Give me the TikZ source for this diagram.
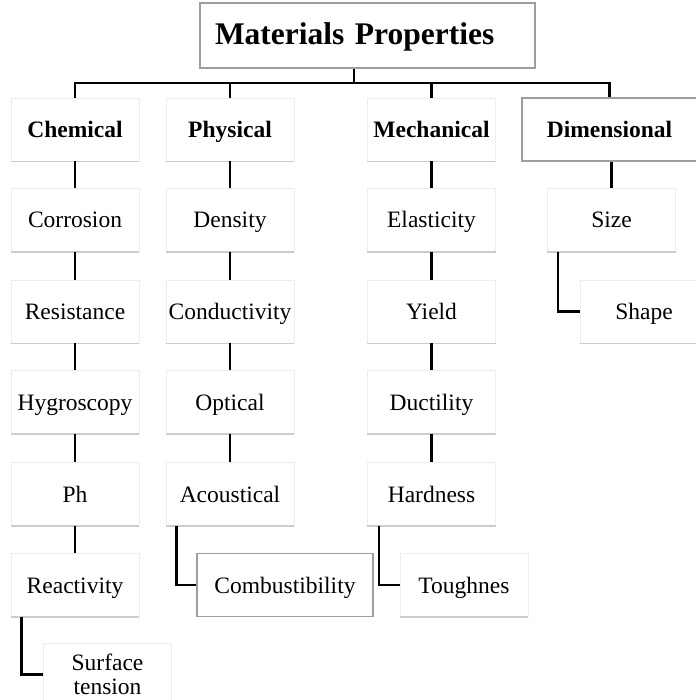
\documentclass[tikz,border=0pt]{standalone}
\usepackage{fontspec}
\setmainfont{Liberation Serif}
\begin{document}
\begin{tikzpicture}[x=1pt,y=-1pt,
  box/.style={draw=black!7, line width=0.8pt, fill=white, minimum width=128pt, minimum height=63pt, inner sep=0pt, text height=19pt, text depth=3pt, font=\fontsize{23.5}{26}\selectfont},
  hbox/.style={box, draw=black!38, line width=1.5pt},
  head/.style={font=\fontsize{23.5}{26}\selectfont\bfseries},
  link/.style={line width=2.6pt, black},
  shade/.style={draw=black!20, line width=1.6pt}]
\useasboundingbox (0,0) rectangle (695,700);

% title
\node[hbox, minimum width=335pt, minimum height=65pt, text width=305pt, align=left, inner xsep=15pt, inner ysep=0pt, text height=22pt, text depth=3pt, font=\fontsize{31.5}{34}\selectfont\bfseries] (title) at (367.5,35.5) {Materials Properties};

% chemical column
\node[box, head] (chem) at (75,129.5) {Chemical};
\node[box] (corr) at (75,220) {Corrosion};
\node[box] (resis) at (75,311.5) {Resistance};
\node[box] (hygro) at (75,402) {Hygroscopy};
\node[box] (ph) at (75,494) {Ph};
\node[box] (react) at (75,585) {Reactivity};
\node[box, align=center, text height=, text depth=, font=\fontsize{23.5}{24}\selectfont] (surf) at (107.5,674.5) {Surface\\tension};

% physical column
\node[box, head] (phys) at (230,129.5) {Physical};
\node[box] (dens) at (230,220) {Density};
\node[box] (cond) at (230,311.5) {Conductivity};
\node[box] (opt) at (230,402) {Optical};
\node[box] (acou) at (230,494) {Acoustical};
\node[hbox, minimum width=176pt] (comb) at (285,585) {Combustibility};

% mechanical column
\node[box, head] (mech) at (431.5,129.5) {Mechanical};
\node[box] (elas) at (431.5,220) {Elasticity};
\node[box] (yld) at (431.5,311.5) {Yield};
\node[box] (duct) at (431.5,402) {Ductility};
\node[box] (hard) at (431.5,494) {Hardness};
\node[box] (tough) at (464,585) {Toughnes};

% dimensional column
\node[hbox, head, minimum width=175pt] (dim) at (609.5,129.5) {Dimensional};
\node[box] (size) at (611.5,220) {Size};
\node[box] (shape) at (644,311.5) {Shape};

% bottom shading of light boxes
\foreach \n in {chem,corr,resis,hygro,ph,react,surf,phys,dens,cond,opt,acou,mech,elas,yld,duct,hard,tough,size,shape}
  \draw[shade] (\n.south west) -- (\n.south east);

% top bus
\coordinate (bus) at (354,83);
\draw[link] (title.south -| bus) -- (bus);
\draw[link] (chem.north) -- (chem.north |- bus) -- (dim.north |- bus) -- (dim.north);
\draw[link] (phys.north) -- (phys.north |- bus);
\draw[link] (mech.north) -- (mech.north |- bus);

% vertical chains
\draw[link] (chem) -- (corr);
\draw[link] (corr) -- (resis);
\draw[link] (resis) -- (hygro);
\draw[link] (hygro) -- (ph);
\draw[link] (ph) -- (react);
\draw[link] (phys) -- (dens);
\draw[link] (dens) -- (cond);
\draw[link] (cond) -- (opt);
\draw[link] (opt) -- (acou);
\draw[link] (mech) -- (elas);
\draw[link] (elas) -- (yld);
\draw[link] (yld) -- (duct);
\draw[link] (duct) -- (hard);
\draw[link] (dim.south -| size) -- (size.north);

% elbows
\draw[link] ([xshift=11pt]react.south west) |- (surf.west);
\draw[link] ([xshift=11pt]acou.south west) |- (comb.west);
\draw[link] ([xshift=12pt]hard.south west) |- (tough.west);
\draw[link] ([xshift=11pt]size.south west) |- (shape.west);
\end{tikzpicture}
\end{document}
